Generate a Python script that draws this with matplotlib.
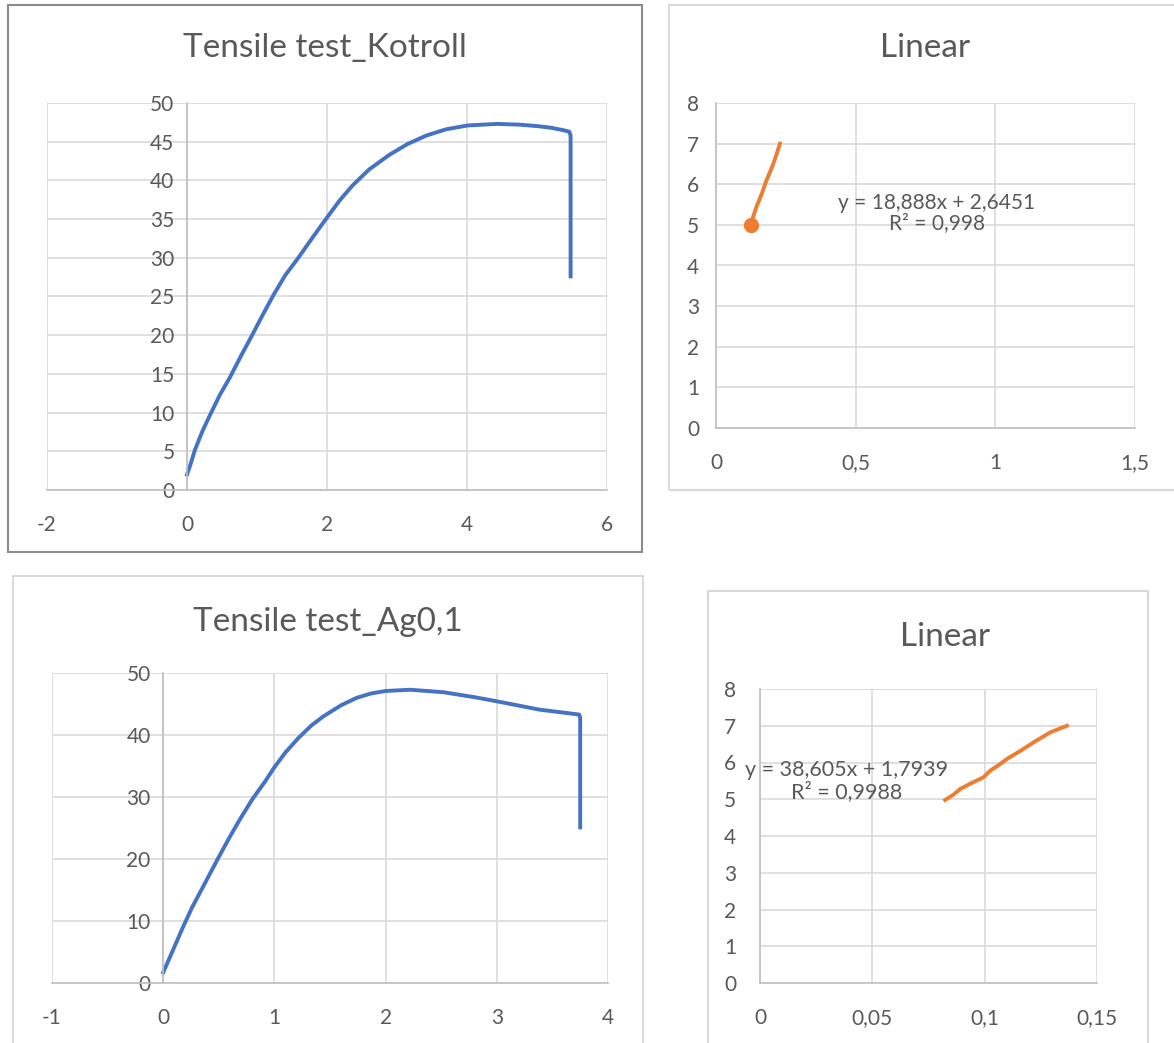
import numpy as np
import matplotlib
matplotlib.use("Agg")
import matplotlib.pyplot as plt
from matplotlib.patches import Rectangle

plt.rcParams['font.family'] = ['Lato', 'DejaVu Sans']
plt.rcParams['axes.unicode_minus'] = False

# tensile test, Kotroll (strain, stress)
kot_x = [0.0, 0.05, 0.11, 0.22, 0.34, 0.47, 0.61, 0.77, 0.93, 1.08, 1.23, 1.4, 1.59, 1.8, 2.0,
         2.18, 2.36, 2.6, 2.89, 3.15, 3.42, 3.7, 4.01, 4.43, 4.75, 5.02, 5.2, 5.37, 5.46, 5.48, 5.48]
kot_y = [2.0, 3.3, 5.1, 7.6, 9.9, 12.3, 14.5, 17.3, 20.0, 22.6, 25.1, 27.7, 30.0, 32.7, 35.2,
         37.4, 39.3, 41.4, 43.3, 44.7, 45.8, 46.6, 47.1, 47.3, 47.2, 47.0, 46.8, 46.5, 46.3, 45.8, 27.6]

# tensile test, Ag0,1
ag_x = [0.0, 0.1, 0.17, 0.26, 0.355, 0.49, 0.6, 0.69, 0.8, 0.92, 1.0, 1.1, 1.215, 1.33, 1.44,
        1.6, 1.74, 1.87, 2.0, 2.22, 2.52, 2.8, 3.01, 3.38, 3.74, 3.75, 3.75]
ag_y = [1.7, 5.8, 8.7, 12.2, 15.4, 20.0, 23.6, 26.4, 29.6, 32.6, 34.8, 37.2, 39.5, 41.5, 43.0,
        44.8, 46.0, 46.7, 47.1, 47.3, 46.9, 46.1, 45.4, 44.1, 43.3, 42.8, 25.1]

# linear part, Kotroll
lin1_x = [0.127, 0.133, 0.145, 0.163, 0.178, 0.193, 0.205, 0.215, 0.229]
lin1_y = [5.0, 5.2, 5.45, 5.75, 6.05, 6.3, 6.5, 6.7, 7.0]
lin1_eq = "y = 18,888x + 2,6451\nR² = 0,998"

# linear part, Ag0,1
lin2_x = [0.0824, 0.086, 0.0891, 0.0935, 0.0995, 0.1025, 0.106, 0.11, 0.116, 0.1218, 0.1292, 0.1366]
lin2_y = [4.98, 5.12, 5.28, 5.42, 5.6, 5.78, 5.92, 6.1, 6.32, 6.55, 6.82, 7.0]
lin2_eq = "y = 38,605x + 1,7939\nR² = 0,9988"

kot_xticks = [-2, 0, 2, 4, 6]
kot_yticks = list(range(0, 51, 5))
ag_xticks = [-1, 0, 1, 2, 3, 4]
ag_yticks = list(range(0, 51, 10))
lin1_xticks = [0, 0.5, 1, 1.5]
lin1_xlabels = ['0', '0,5', '1', '1,5']
lin2_xticks = [0, 0.05, 0.1, 0.15]
lin2_xlabels = ['0', '0,05', '0,1', '0,15']
lin_yticks = list(range(0, 9))

W, H = 1174, 1043
fig = plt.figure(figsize=(W / 100, H / 100), dpi=100)

TXT = '#595959'
GRID = '#d9d9d9'
AXL = '#bfbfbf'
BLUE = '#4472C4'
ORANGE = '#ED7D31'


def px_axes(x0, y0, x1, y1):
    return fig.add_axes([x0 / W, 1 - y1 / H, (x1 - x0) / W, (y1 - y0) / H])


def frame(x0, y0, x1, y1, color):
    fig.patches.append(Rectangle((x0 / W, 1 - y1 / H), (x1 - x0) / W, (y1 - y0) / H,
                                 transform=fig.transFigure, fill=False, edgecolor=color, lw=1.5))


def style(ax, xticks, yticks, xlim, ylim, xlabels=None, ypad=9):
    ax.set_xlim(*xlim)
    ax.set_ylim(*ylim)
    ax.set_xticks(xticks)
    if xlabels is not None:
        ax.set_xticklabels(xlabels)
    ax.set_yticks(yticks)
    ax.grid(True, color=GRID, lw=1.2)
    ax.set_axisbelow(True)
    for s in ['top', 'right']:
        ax.spines[s].set_visible(False)
    ax.spines['bottom'].set_color(AXL)
    ax.spines['left'].set_color(AXL)
    ax.spines['bottom'].set_linewidth(1.2)
    ax.spines['left'].set_linewidth(1.2)
    ax.spines['left'].set_position(('data', 0))
    ax.tick_params(length=0, labelsize=15, labelcolor=TXT)
    ax.tick_params(axis='x', pad=18)
    ax.tick_params(axis='y', pad=ypad)


frame(8, 5, 642, 552, '#8c8c8c')
frame(669, 5, 1190, 490, GRID)
frame(13, 576, 643, 1060, GRID)
frame(708, 591, 1148, 1060, GRID)

# chart 1
ax1 = px_axes(47, 103, 607, 490)
style(ax1, kot_xticks, kot_yticks, (-2, 6), (0, 50))
ax1.plot(kot_x, kot_y, color=BLUE, lw=2.8, solid_joinstyle='round')
fig.text(325 / W, 1 - 48 / H, 'Tensile test_Kotroll', ha='center', va='center', fontsize=24, color=TXT)

# chart 2
ax2 = px_axes(716, 103, 1135, 428)
style(ax2, lin1_xticks, lin_yticks, (0, 1.5), (0, 8), lin1_xlabels, ypad=12)
ax2.plot(lin1_x, lin1_y, color=ORANGE, lw=2.8)
ax2.plot(lin1_x[0], lin1_y[0], 'o', color=ORANGE, ms=10)
ax2.text(0.79, 5.29, lin1_eq, ha='center', va='center', multialignment='center',
         fontsize=15, color=TXT, linespacing=1.05)
fig.text(925 / W, 1 - 48 / H, 'Linear', ha='center', va='center', fontsize=24, color=TXT)

# chart 3
ax3 = px_axes(52, 673, 608, 983)
style(ax3, ag_xticks, ag_yticks, (-1, 4), (0, 50))
ax3.plot(ag_x, ag_y, color=BLUE, lw=2.8, solid_joinstyle='round')
fig.text(328 / W, 1 - 622 / H, 'Tensile test_Ag0,1', ha='center', va='center', fontsize=24, color=TXT)

# chart 4
ax4 = px_axes(760, 689, 1097, 983)
style(ax4, lin2_xticks, lin_yticks, (0, 0.15), (0, 8), lin2_xlabels, ypad=17)
ax4.plot(lin2_x, lin2_y, color=ORANGE, lw=2.8)
ax4.text(0.0385, 5.50, lin2_eq, ha='center', va='center', multialignment='center',
         fontsize=15.5, color=TXT, linespacing=1.05)
fig.text(945 / W, 1 - 637 / H, 'Linear', ha='center', va='center', fontsize=24, color=TXT)

fig.savefig('out.png', dpi=100)
